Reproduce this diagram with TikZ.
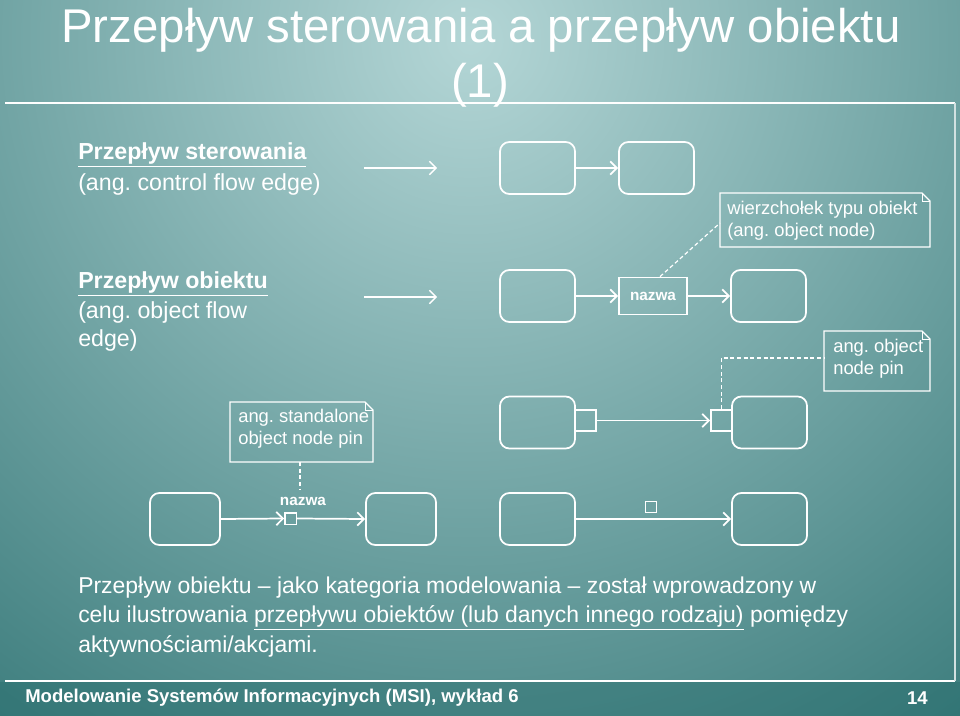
\documentclass[tikz,border=0pt]{standalone}
\usepackage{fontspec}
\setmainfont{Liberation Sans}
\usetikzlibrary{arrows.meta,calc}
\definecolor{bgdark}{HTML}{1F6767}
\definecolor{bglight}{HTML}{B4D6D6}
\newcommand{\ul}[1]{\underline{#1}}
\frenchspacing
\begin{document}
\begin{tikzpicture}[x=0.75pt,y=-0.75pt,
  line/.style={draw=white,line width=1.3pt},
  act/.style={line,rounded corners=7pt,minimum width=56.25pt,minimum height=39pt,inner sep=0pt},
  actsm/.style={act,minimum width=52.5pt},
  pinbox/.style={line,minimum width=15.75pt,minimum height=15.75pt,inner sep=0pt},
  spin/.style={line,line width=1pt,minimum width=8.5pt,minimum height=8.5pt,inner sep=0pt},
  flow/.style={line,-{Straight Barb[length=5pt,width=10pt]}},
  note/.style={anchor=north west,text=white,font=\fontsize{13.8}{16.5}\selectfont,align=left,inner sep=0pt},
  dashln/.style={draw=white,line width=0.9pt,dash pattern=on 3pt off 2pt},
  txt/.style={text=white,anchor=west,inner sep=0pt},
]
\useasboundingbox (0,0) rectangle (960,716);
\begin{scope}
\clip (0,0) rectangle (960,716);
\fill[bgdark] (0,0) rectangle (960,716);
\shade[inner color=bglight,outer color=bgdark] (470,40) circle (1050);
\fill[bgdark,opacity=0.35] (0,682) rectangle (960,716);
\end{scope}
\draw[white,line width=1.5pt] (5,103) -- (955,103);
\draw[white,line width=1.5pt] (5,681) -- (955,681);
\draw[white!80!bgdark,line width=1pt] (955,103) -- (955,681);
% title
\node[text=white,font=\fontsize{35.5}{40}\selectfont] (t1) at (481,30) {Przepływ sterowania a przepływ obiektu};
\node[text=white,font=\fontsize{35.5}{40}\selectfont] (t2) at (480,85) {(1)};
% left labels
\node[txt,font=\fontsize{17.4}{20}\selectfont\bfseries] (l1) at (78,155) {\ul{Przepływ sterowania}};
\node[txt,font=\fontsize{17.4}{20}\selectfont] (l2) at (78,185) {(ang. control flow edge)};
\node[txt,font=\fontsize{17.4}{20}\selectfont\bfseries] (l3) at (78,284) {\ul{Przepływ obiektu}};
\node[txt,font=\fontsize{17.4}{21.5}\selectfont,align=left,anchor=north west] (l4) at (78,301) {(ang. object flow\\edge)};
\coordinate (a1s) at (364,168); \coordinate (a1e) at (437,168);
\coordinate (a2s) at (364,297); \coordinate (a2e) at (437,297);
\draw[flow,line width=1pt] (a1s) -- (a1e);
\draw[flow,line width=1pt] (a2s) -- (a2e);
% row 1
\node[act] (A) at (537.5,168) {};
\node[act] (B) at (656.5,168) {};
\draw[flow] (A) -- (B);
% row 2
\node[act] (C) at (537.5,296) {};
\node[line,minimum width=51pt,minimum height=27.75pt,inner sep=0pt,text=white,font=\fontsize{11.5}{13}\selectfont\bfseries] (N) at (653,296) {nazwa};
\node[act] (D) at (768.5,296) {};
\draw[flow] (C) -- (N);
\draw[flow] (N) -- (D);
% row 3
\node[act] (E) at (537.5,422.5) {};
\node[pinbox] (P1) at (585.5,420.5) {};
\node[pinbox] (P2) at (721.5,420.5) {};
\node[act] (F) at (769.5,422.5) {};
\draw[flow] (P1) -- (P2);
% row 4
\node[actsm] (G) at (185,519) {};
\node[spin] (SP) at (290.5,518.5) {};
\node[text=white,font=\fontsize{11.5}{13}\selectfont\bfseries] (SPl) at (303,501) {nazwa};
\node[actsm] (H) at (401,519) {};
\node[act] (I) at (537.5,519) {};
\node[spin] (SP2) at (651,507) {};
\node[act] (J) at (769.5,519) {};
\draw[flow] (G.east) -- (SP.west);
\draw[flow] (SP.east) -- (H.west);
\draw[flow] (I) -- (J);
% notes
\newcommand{\notebox}[4]{%
  \draw[line,line width=1pt] (#1,#2) -- (#3-8,#2) -- (#3,#2+8) -- (#3,#4) -- (#1,#4) -- cycle;
  \draw[white,line width=0.7pt] (#3-8,#2) -- (#3-8,#2+8) -- (#3,#2+8);}
\notebox{720}{193}{930}{247}
\node[note] (n1) at (727,201) {wierzchołek typu obiekt\\(ang. object node)};
\notebox{824}{331}{930}{391}
\node[note] (n2) at (833,339) {ang. object\\node pin};
\notebox{230}{402}{373}{462}
\node[note] (n3) at (238,409) {ang. standalone\\object node pin};
\coordinate (n1a) at (720,223);
\coordinate (n2a) at (824,358);
\coordinate (n3a) at (300,462);
\draw[dashln] ($(N.north)+(7,0)$) -- (n1a);
\draw[dashln] (P2.north) |- (n2a);
\draw[dashln] (n3a) -- ($(SPl.north)+(-3,-2)$);
% body text
\node[txt,anchor=north west,align=left,font=\fontsize{17.2}{21.8}\selectfont] (body) at (78,577) {Przepływ obiektu -- jako kategoria modelowania -- został wprowadzony w\\celu ilustrowania \ul{przepływu obiektów (lub danych innego rodzaju)} pomiędzy\\aktywnościami/akcjami.};
% footer
\node[txt,font=\fontsize{13.9}{16}\selectfont\bfseries] (foot) at (25,698) {Modelowanie Systemów Informacyjnych (MSI), wykład 6};
\node[text=white,font=\fontsize{13.9}{16}\selectfont\bfseries,anchor=east,inner sep=0pt] (pg) at (928,698) {14};
\end{tikzpicture}
\end{document}
